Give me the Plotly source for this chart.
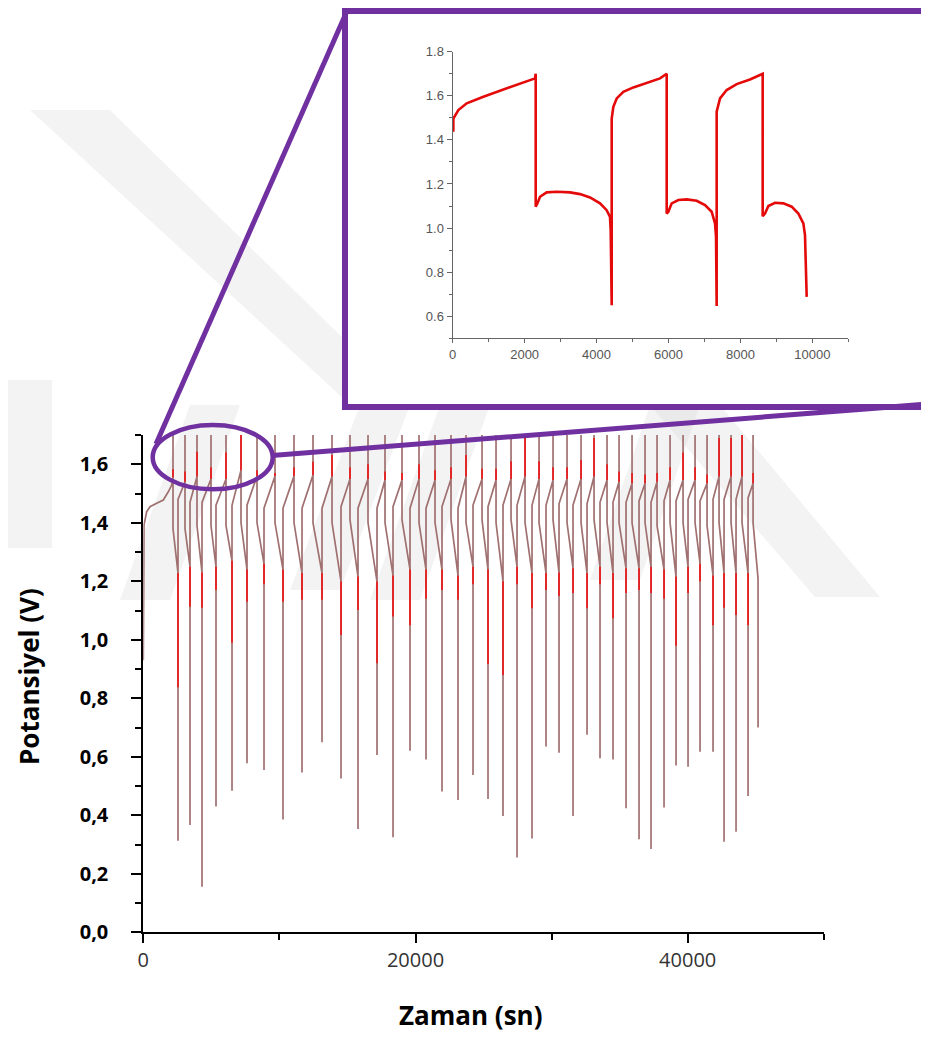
import plotly.graph_objects as go

# the page shows the figure with an 8 px body margin, so the figure is 8 px smaller
PAGE_W, PAGE_H = 929, 1037
OFF = 8
W, H = PAGE_W - OFF, PAGE_H - OFF

# ---------------- main chart data (time in s, potential in V) ----------------
first_charge_t = [0, 0, 51, 250, 492, 984, 1470, 1837, 2087]
first_charge_v = [0.93, 1.387, 1.392, 1.438, 1.455, 1.467, 1.478, 1.506, 1.529]

t_top = [2182, 3064, 3946, 4975, 6077, 7179, 8355, 9677, 11073, 12469,
         13866, 15188, 16511, 17760, 19009, 20258, 21434, 22610, 23712, 24888,
         25917, 27019, 28048, 29077, 30105, 31134, 32163, 33118, 34073, 34955,
         35910, 36865, 37747, 38703, 39658, 40540, 41422, 42303, 43185, 43993,
         44802]
t_bot = [2550, 3431, 4313, 5342, 6518, 7620, 8869, 10265, 11662, 13131,
         14527, 15776, 17172, 18348, 19597, 20773, 21948, 23124, 24226, 25328,
         26430, 27459, 28561, 29590, 30545, 31574, 32603, 33558, 34513, 35469,
         36424, 37306, 38261, 39143, 40025, 40906, 41862, 42670, 43552, 44434,
         45169]
v_min = [0.313, 0.367, 0.156, 0.43, 0.484, 0.578, 0.555, 0.386, 0.546, 0.65,
         0.526, 0.353, 0.606, 0.325, 0.621, 0.591, 0.481, 0.452, 0.538, 0.456,
         0.398, 0.256, 0.321, 0.635, 0.614, 0.398, 0.675, 0.595, 0.591, 0.424,
         0.318, 0.285, 0.427, 0.57, 0.566, 0.617, 0.617, 0.31, 0.344, 0.466,
         0.70]
v_chg_lo = [1.455, 1.48, 1.47, 1.47, 1.46, 1.46, 1.46, 1.45, 1.45, 1.45,
            1.45, 1.455, 1.45, 1.45, 1.455, 1.45, 1.45, 1.455, 1.45, 1.46,
            1.455, 1.46, 1.46, 1.46, 1.46, 1.465, 1.46, 1.465, 1.47, 1.47,
            1.47, 1.475, 1.47, 1.475, 1.475, 1.48, 1.475, 1.48, 1.48, 1.48,
            1.485]
v_chg_hi = [1.556, 1.54, 1.558, 1.55, 1.55, 1.58, 1.56, 1.56, 1.56, 1.563,
            1.558, 1.55, 1.55, 1.546, 1.546, 1.55, 1.546, 1.55, 1.558, 1.55,
            1.546, 1.55, 1.558, 1.55, 1.546, 1.55, 1.55, 1.558, 1.546, 1.54,
            1.535, 1.535, 1.54, 1.546, 1.546, 1.546, 1.535, 1.558, 1.558, 1.558,
            1.535]
red_top_hi = [1.583, 1.575, 1.643, 1.59, 1.64, 1.70, 1.58, 1.57, 1.59, 1.609,
              1.632, 1.59, 1.60, 1.575, 1.57, 1.60, 1.58, 1.59, 1.632, 1.585,
              1.585, 1.61, 1.70, 1.61, 1.59, 1.59, 1.615, 1.69, 1.60, 1.575,
              1.57, 1.565, 1.57, 1.59, 1.64, 1.59, 1.565, 1.69, 1.69, 1.70,
              1.57]
v_dis_hi = [1.38, 1.38, 1.39, 1.39, 1.39, 1.40, 1.40, 1.40, 1.40, 1.40,
            1.40, 1.41, 1.40, 1.40, 1.41, 1.40, 1.40, 1.41, 1.40, 1.41,
            1.40, 1.41, 1.40, 1.40, 1.41, 1.40, 1.40, 1.41, 1.40, 1.40,
            1.40, 1.40, 1.39, 1.40, 1.40, 1.40, 1.39, 1.40, 1.40, 1.40,
            1.40]
v_dis_lo = [1.228, 1.25, 1.23, 1.25, 1.27, 1.24, 1.26, 1.24, 1.228, 1.228,
            1.199, 1.216, 1.199, 1.22, 1.24, 1.24, 1.24, 1.22, 1.25, 1.24,
            1.20, 1.25, 1.228, 1.228, 1.23, 1.245, 1.228, 1.25, 1.228, 1.245,
            1.245, 1.25, 1.24, 1.216, 1.25, 1.26, 1.22, 1.228, 1.228, 1.228,
            1.21]
red_bot_lo = [0.838, 1.113, 1.11, 1.17, 0.99, 1.13, 1.19, 1.13, 1.137, 1.137,
              1.016, 1.102, 0.92, 1.08, 1.05, 1.14, 1.17, 1.137, 1.19, 0.917,
              0.88, 1.19, 1.108, 1.17, 1.15, 1.16, 1.108, 1.19, 1.074, 1.16,
              1.17, 1.16, 1.14, 0.98, 1.16, 1.20, 1.05, 1.11, 1.085, 1.05,
              1.21]
V_CUTOFF = 1.70

x_ticks_main = [0, 20000, 40000]
x_ticktext_main = ["0", "20000", "40000"]
x_minor_main = [10000, 30000, 50000]
y_ticks_main = [0.0, 0.2, 0.4, 0.6, 0.8, 1.0, 1.2, 1.4, 1.6]
y_ticktext_main = ["0,0", "0,2", "0,4", "0,6", "0,8", "1,0", "1,2", "1,4", "1,6"]
y_minor_main = [0.1, 0.3, 0.5, 0.7, 0.9, 1.1, 1.3, 1.5, 1.7]

# ---------------- inset data ----------------
inset_t = [18, 18, 158, 389, 853, 1316, 1779, 2289, 2308,
           2308, 2354, 2428, 2613, 2891, 3262, 3540, 3818, 4096, 4281, 4374, 4393, 4421,
           4421, 4467, 4560, 4745, 5023, 5394, 5765, 5950,
           5950, 5996, 6089, 6274, 6506, 6784, 7016, 7201, 7294, 7322, 7340,
           7340, 7433, 7618, 7896, 8267, 8619,
           8619, 8684, 8777, 8962, 9194, 9426, 9611, 9750, 9796, 9815, 9843]
inset_v = [1.437, 1.497, 1.535, 1.566, 1.596, 1.623, 1.649, 1.679, 1.70,
           1.097, 1.112, 1.142, 1.162, 1.165, 1.162, 1.154, 1.139, 1.112, 1.081, 1.051, 0.99, 0.65,
           1.497, 1.55, 1.588, 1.618, 1.638, 1.659, 1.679, 1.70,
           1.066, 1.074, 1.112, 1.127, 1.13, 1.124, 1.104, 1.074, 1.021, 0.96, 0.646,
           1.528, 1.588, 1.626, 1.653, 1.674, 1.70,
           1.054, 1.066, 1.10, 1.115, 1.112, 1.097, 1.066, 1.021, 0.968, 0.779, 0.688]
inset_xticks = [0, 2000, 4000, 6000, 8000, 10000]
inset_xticktext = ["0", "2000", "4000", "6000", "8000", "10000"]
inset_yticks = [0.6, 0.8, 1.0, 1.2, 1.4, 1.6, 1.8]
inset_yticktext = ["0.6", "0.8", "1.0", "1.2", "1.4", "1.6", "1.8"]

# ---------------- build main polylines ----------------
xs, ys = list(first_charge_t), list(first_charge_v)
rx, ry = [], []
for i in range(len(t_top)):
    if i > 0:
        xs += [t_bot[i - 1], t_bot[i - 1]]
        ys += [v_min[i - 1], v_chg_lo[i]]
    xs += [t_top[i], t_top[i], t_top[i], t_bot[i], t_bot[i]]
    ys += [v_chg_hi[i], V_CUTOFF, v_dis_hi[i], v_dis_lo[i], v_min[i]]
    rx += [t_top[i], t_top[i], None, t_bot[i], t_bot[i], None]
    ry += [v_chg_hi[i], red_top_hi[i], None, v_dis_lo[i], red_bot_lo[i], None]

PURPLE = "#7030a0"


def fx(p):
    """page pixel x -> paper fraction"""
    return (p - OFF) / W


def fy(p):
    """page pixel y -> paper fraction"""
    return 1 - (p - OFF) / H


fig = go.Figure()
fig.add_trace(go.Scatter(x=xs, y=ys, mode="lines",
                         line=dict(color="rgb(160,112,112)", width=1.7),
                         xaxis="x", yaxis="y", showlegend=False, hoverinfo="skip"))
fig.add_trace(go.Scatter(x=rx, y=ry, mode="lines",
                         line=dict(color="rgb(235,25,25)", width=1.7),
                         xaxis="x", yaxis="y", showlegend=False, hoverinfo="skip"))
fig.add_trace(go.Scatter(x=inset_t, y=inset_v, mode="lines",
                         line=dict(color="rgb(228,10,10)", width=2.6),
                         xaxis="x2", yaxis="y2", showlegend=False, hoverinfo="skip"))

shapes = []
# faint watermark
wm = "rgba(215,215,215,0.30)"
for poly in [
    [(8, 380), (52, 380), (52, 548), (8, 548)],
    [(120, 600), (170, 600), (240, 405), (190, 405)],
    [(290, 590), (340, 590), (410, 405), (360, 405)],
    [(370, 600), (420, 600), (490, 405), (440, 405)],
    [(590, 580), (640, 580), (700, 405), (650, 405)],
    [(650, 405), (720, 405), (880, 597), (815, 597)],
    [(30, 110), (110, 110), (345, 340), (345, 400)],
]:
    path = "M " + " L ".join(f"{fx(a):.4f},{fy(b):.4f}" for a, b in poly) + " Z"
    shapes.append(dict(type="path", xref="paper", yref="paper", path=path,
                       fillcolor=wm, line=dict(width=0), layer="below"))
# inset frame
shapes.append(dict(type="rect", xref="paper", yref="paper",
                   x0=fx(345), x1=fx(924), y0=fy(407), y1=fy(11),
                   fillcolor="white", line=dict(color=PURPLE, width=6), layer="below"))
# ellipse and connectors
shapes.append(dict(type="circle", xref="paper", yref="paper",
                   x0=fx(152.7), x1=fx(272.7), y0=fy(489.3), y1=fy(425),
                   line=dict(color=PURPLE, width=4.5), layer="above"))
shapes.append(dict(type="line", xref="paper", yref="paper",
                   x0=fx(156), y0=fy(444), x1=fx(347), y1=fy(11),
                   line=dict(color=PURPLE, width=5), layer="above"))
shapes.append(dict(type="line", xref="paper", yref="paper",
                   x0=fx(272), y0=fy(455.5), x1=fx(929), y1=fy(404),
                   line=dict(color=PURPLE, width=5), layer="above"))

annotations = [
    dict(text="Zaman (sn)", xref="paper", yref="paper", x=fx(470.5), y=fy(1015),
         xanchor="center", yanchor="middle", showarrow=False,
         font=dict(family="Open Sans", size=26, color="black", weight="bold")),
    dict(text="Potansiyel (V)", xref="paper", yref="paper", x=fx(29), y=fy(677),
         xanchor="center", yanchor="middle", showarrow=False, textangle=-90,
         font=dict(family="Open Sans", size=26, color="black", weight="bold")),
]

fig.update_layout(
    template="none",
    width=W, height=H,
    margin=dict(l=0, r=0, t=0, b=0, pad=0, autoexpand=False),
    paper_bgcolor="white", plot_bgcolor="rgba(0,0,0,0)",
    shapes=shapes, annotations=annotations,
    xaxis=dict(domain=[fx(143.3), fx(823.8)], range=[0, 50000], anchor="y", automargin=False,
               showgrid=False, zeroline=False, showline=True, linecolor="black", linewidth=2,
               tickmode="array", tickvals=x_ticks_main, ticktext=x_ticktext_main,
               ticks="outside", ticklen=9, tickwidth=2, tickcolor="black",
               ticklabelstandoff=0,
               minor=dict(tickmode="array", tickvals=x_minor_main, ticks="outside",
                          ticklen=6, tickwidth=2, tickcolor="black", showgrid=False),
               tickfont=dict(family="Open Sans", size=20, color="#333333")),
    yaxis=dict(domain=[fy(932.3), fy(435.05)], range=[0, 1.7], anchor="x", automargin=False,
               showgrid=False, zeroline=False, showline=True, linecolor="black", linewidth=2,
               tickmode="array", tickvals=y_ticks_main, ticktext=y_ticktext_main,
               ticks="outside", ticklen=10, tickwidth=2, tickcolor="black",
               ticklabelstandoff=19,
               minor=dict(tickmode="array", tickvals=y_minor_main, ticks="outside",
                          ticklen=6, tickwidth=2, tickcolor="black", showgrid=False),
               tickfont=dict(family="Open Sans", size=20, color="black", weight="bold")),
    xaxis2=dict(domain=[fx(452.7), fx(848.3)], range=[0, 11000], anchor="y2", automargin=False,
                showgrid=False, zeroline=False, showline=True, linecolor="#666666", linewidth=1.3,
                tickmode="array", tickvals=inset_xticks, ticktext=inset_xticktext,
                ticks="outside", ticklen=4, tickwidth=1, tickcolor="#666666",
                minor=dict(tickmode="linear", dtick=1000, tick0=0, ticks="outside", ticklen=3,
                           tickwidth=1, tickcolor="#666666", showgrid=False),
                tickfont=dict(family="Liberation Sans", size=13, color="#555555")),
    yaxis2=dict(domain=[fy(338.3), fy(51.7)], range=[0.5, 1.8], anchor="x2", automargin=False,
                showgrid=False, zeroline=False, showline=True, linecolor="#666666", linewidth=1.3,
                tickmode="array", tickvals=inset_yticks, ticktext=inset_yticktext,
                ticks="outside", ticklen=5, tickwidth=1, tickcolor="#666666",
                minor=dict(tickmode="linear", dtick=0.1, tick0=0.5, ticks="outside", ticklen=3,
                           tickwidth=1, tickcolor="#666666", showgrid=False),
                tickfont=dict(family="Liberation Sans", size=13, color="#555555")),
)

fig.write_html("out.html")
